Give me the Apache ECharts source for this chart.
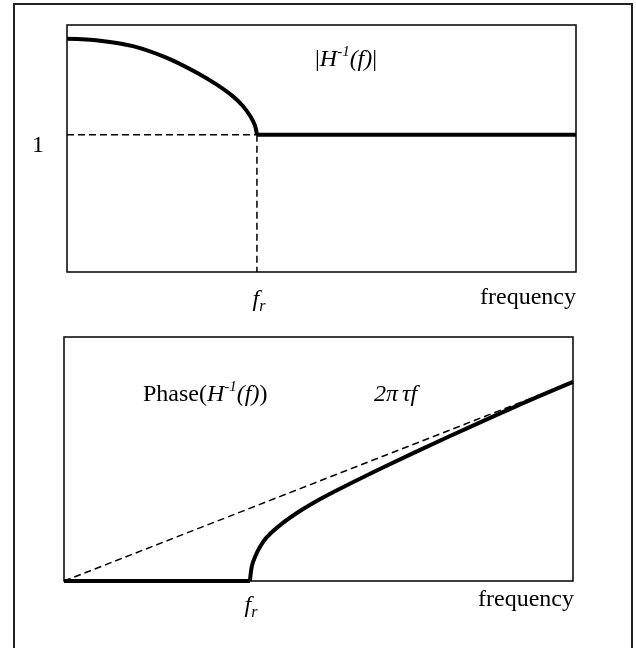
<!DOCTYPE html>
<html>
<head>
	<meta charset="UTF-8">
	<title></title>
	<script src="https://cdn.jsdelivr.net/npm/echarts@6/dist/echarts.min.js"></script>
	<style>html,body{margin:0;padding:0;background:#fff;}</style>
</head>
<body>
	<div id="main" style="width:636px;height:648px;"></div>
	<script type="text/javascript">
		// fr = 1 on both frequency axes
		var frFreq = 1;
		var levelOne = 1;

		// |H^-1(f)| (top panel): curved part below fr, flat part above
		var magFreq = [0, 0.174, 0.347, 0.526, 0.70, 0.789, 0.874, 0.926, 0.963, 0.989, 1.0];
		var magValue = [1.70, 1.686, 1.646, 1.56, 1.44, 1.365, 1.28, 1.21, 1.14, 1.07, 1.0];
		var magFlatFreq = [1.0, 2.68];
		var magFlatValue = [1.0, 1.0];

		// Phase(H^-1(f)) (bottom panel): flat part below fr, curved part above
		var phaseFlatFreq = [0, 1.0];
		var phaseFlatValue = [0, 0];
		var phaseFreq = [1.0, 1.01, 1.027, 1.054, 1.091, 1.177, 1.269, 1.376, 1.484, 1.715, 2.07, 2.43, 2.737];
		var phaseValue = [0, 0.06, 0.098, 0.14, 0.18, 0.238, 0.287, 0.335, 0.378, 0.465, 0.592, 0.716, 0.816];

		// 2*pi*tau*f reference line
		var linFreq = [0, 2.737];
		var linValue = [0, 0.816];

		function zip(a, b) {
			return a.map(function (v, i) { return [v, b[i]]; });
		}

		var serif = '"Liberation Serif", "Times New Roman", serif';
		var rich = {
			n: { fontFamily: serif, fontSize: 24, lineHeight: 30, fill: '#000' },
			i: { fontFamily: serif, fontSize: 24, lineHeight: 30, fontStyle: 'italic', fill: '#000' },
			sup: { fontFamily: serif, fontSize: 15, lineHeight: 30, fontStyle: 'italic', fill: '#000', verticalAlign: 'top' },
			sub: { fontFamily: serif, fontSize: 16, lineHeight: 30, fontStyle: 'italic', fill: '#000', verticalAlign: 'bottom' },
			g: { fontFamily: serif, fontSize: 24, lineHeight: 30, fontStyle: 'italic', fill: '#000', padding: [0, 4, 0, 0] }
		};

		var myChart = echarts.init(document.getElementById('main'));

		var dashed = { color: '#000', width: 1.5, type: [7, 4] };
		var thick = { color: '#000', width: 4, cap: 'butt', join: 'round' };

		function line(xi, data, style, smooth) {
			return {
				type: 'line', xAxisIndex: xi, yAxisIndex: xi, symbol: 'none', clip: false,
				smooth: smooth || false, data: data, lineStyle: style
			};
		}

		myChart.setOption({
			backgroundColor: '#fff',
			animation: false,
			grid: [
				{ left: 67, top: 25, width: 509, height: 247, show: true, borderColor: '#000', borderWidth: 1.5 },
				{ left: 64, top: 337, width: 509, height: 244, show: true, borderColor: '#000', borderWidth: 1.5 }
			],
			xAxis: [
				{ type: 'value', gridIndex: 0, min: 0, max: 2.68, show: false },
				{ type: 'value', gridIndex: 1, min: 0, max: 2.737, show: false }
			],
			yAxis: [
				{ type: 'value', gridIndex: 0, min: 0, max: 1.8, show: false },
				{ type: 'value', gridIndex: 1, min: 0, max: 1, show: false }
			],
			series: [
				line(0, [[0, levelOne], [frFreq, levelOne]], dashed),
				line(0, [[frFreq, levelOne], [frFreq, 0]], dashed),
				line(0, zip(magFreq, magValue), thick, 0.35),
				line(0, zip(magFlatFreq, magFlatValue), thick),
				line(1, zip(linFreq, linValue), dashed),
				line(1, zip(phaseFlatFreq, phaseFlatValue), thick),
				line(1, zip(phaseFreq, phaseValue), thick, 0.35)
			]
		});

		var frTop = myChart.convertToPixel({ gridIndex: 0 }, [frFreq, 0]);
		var oneTop = myChart.convertToPixel({ gridIndex: 0 }, [0, levelOne]);
		var frBot = myChart.convertToPixel({ gridIndex: 1 }, [frFreq, 0]);

		function label(x, y, text, align) {
			return {
				type: 'text', x: x, y: y, silent: true,
				style: { text: text, rich: rich, align: align || 'left', verticalAlign: 'middle' }
			};
		}

		myChart.setOption({
			graphic: [
				{
					type: 'rect', silent: true,
					shape: { x: 14, y: 4, width: 618, height: 700 },
					style: { fill: 'none', stroke: '#222', lineWidth: 2 }
				},
				label(315, 60, '{n||}{i|H}{sup|-1}{i|(f)}{n||}'),
				label(oneTop[0] - 23, oneTop[1] + 11, '{n|1}', 'right'),
				label(frTop[0] + 2, frTop[1] + 28, '{i|f}{sub|r}', 'center'),
				label(576, 298, '{n|frequency}', 'right'),
				label(143, 395, '{n|Phase(}{i|H}{sup|-1}{i|(f)}{n|)}'),
				label(374, 395, '{i|2}{g|\u03c0}{i|\u03c4f}'),
				label(frBot[0] + 1, frBot[1] + 25, '{i|f}{sub|r}', 'center'),
				label(574, 600, '{n|frequency}', 'right')
			]
		});
	</script>
</body>
</html>
